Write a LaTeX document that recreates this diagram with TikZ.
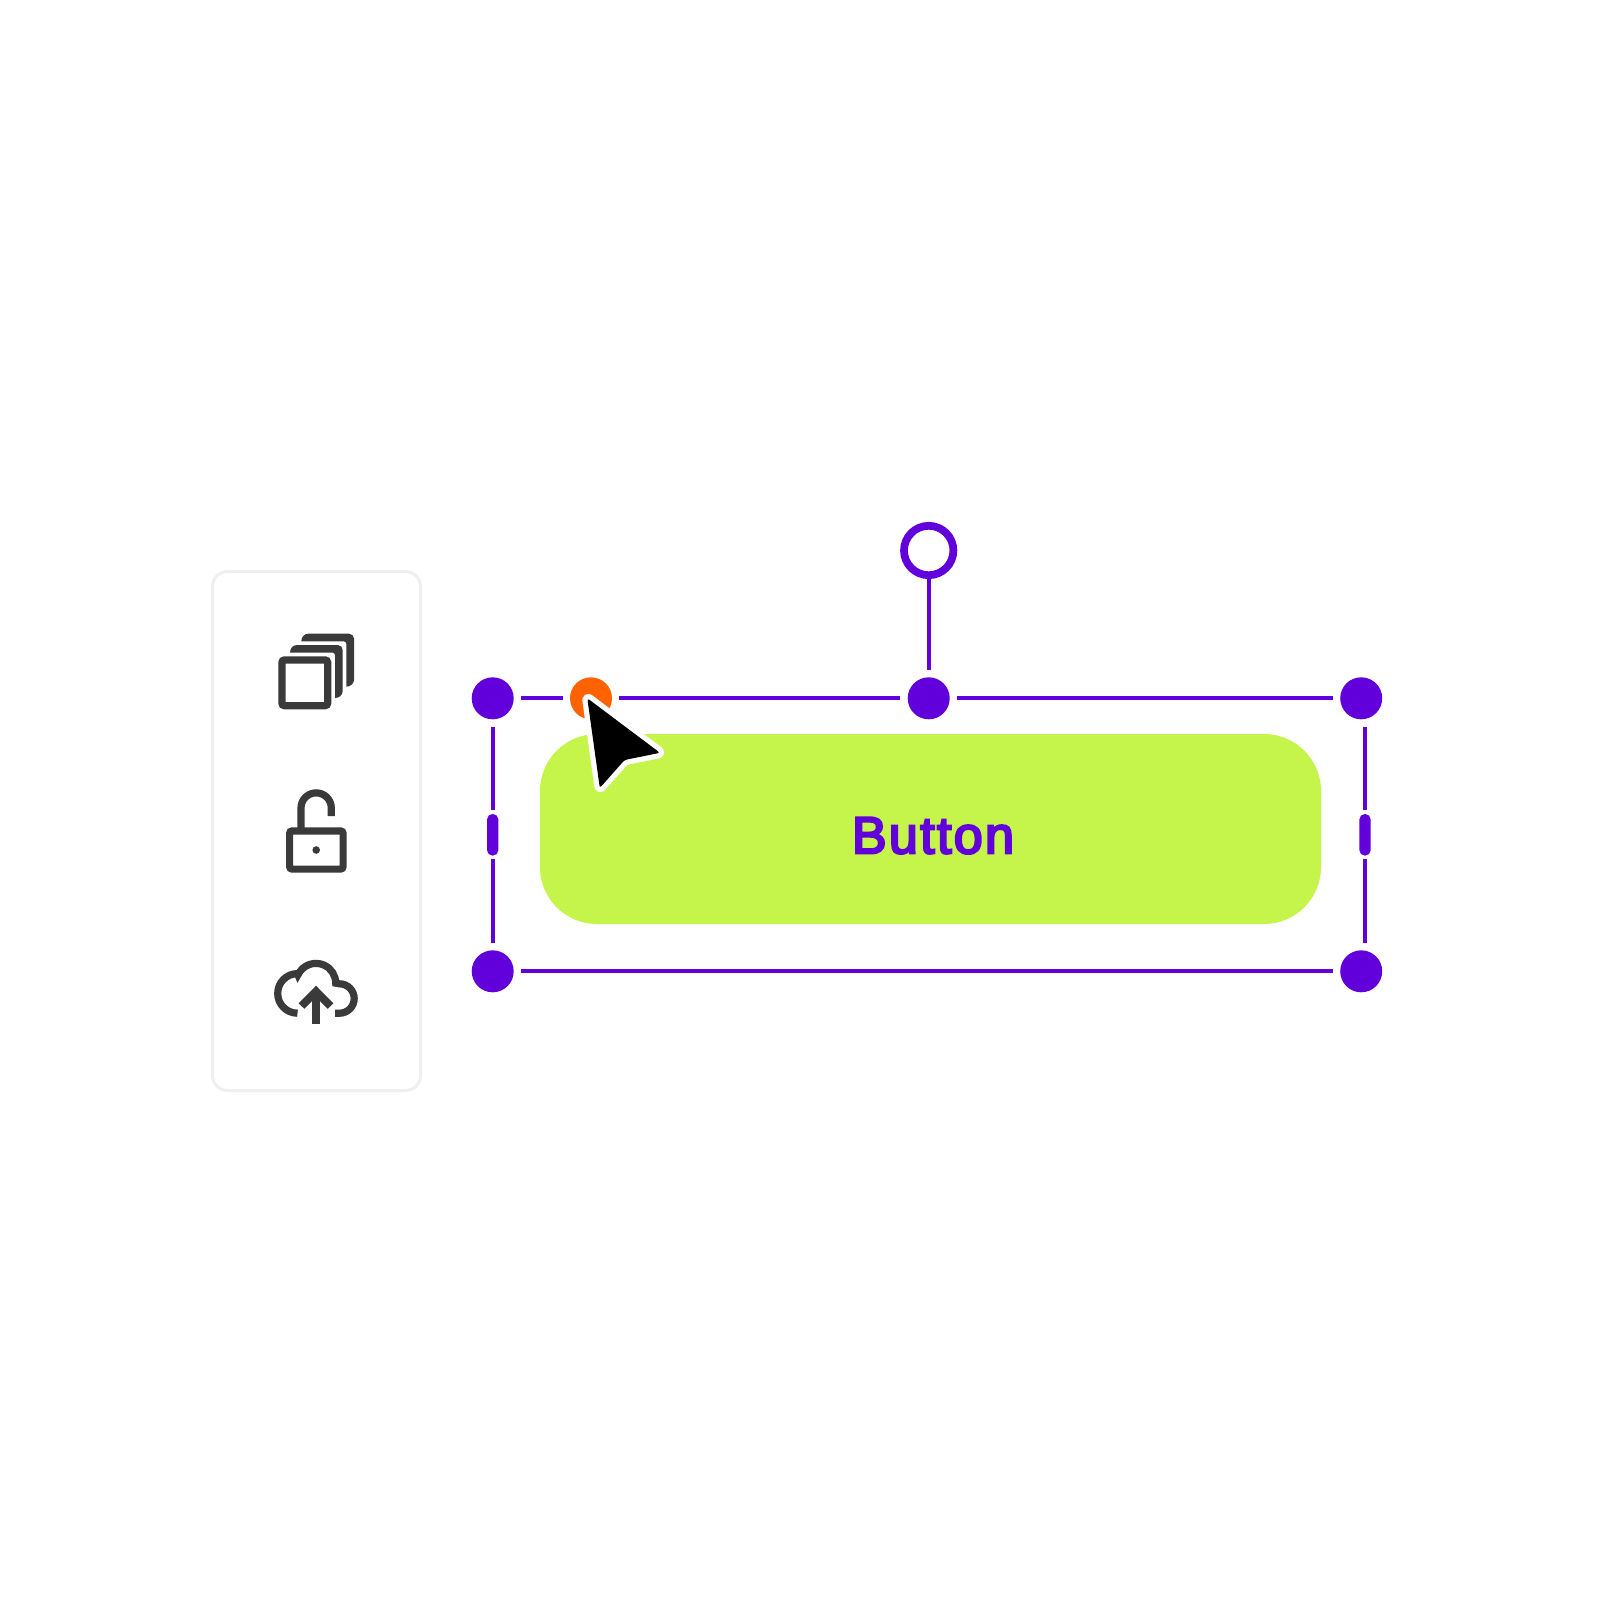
\documentclass[tikz,border=0pt]{standalone}
\usepackage{fontspec}
\setmainfont{Liberation Sans}
\newfontfamily\btnfont[FakeBold=4.5,LetterSpace=4.5]{Liberation Sans}
\definecolor{vio}{HTML}{6200DB}
\definecolor{org}{HTML}{FF6200}
\definecolor{lime}{HTML}{C5F54B}
\definecolor{ink}{HTML}{3A3A3A}
\definecolor{edgegray}{HTML}{EFEFEF}
\tikzset{
  handle/.style={circle,fill=vio,minimum size=42pt,inner sep=0pt,outer sep=7.4pt},
  pillnode/.style={rectangle,fill=vio,rounded corners=5.6pt,minimum width=11.4pt,minimum height=41.7pt,inner sep=0pt,outer sep=3.6pt},
  link/.style={draw=vio,line width=4pt},
  iconline/.style={draw=ink,line width=7.2pt},
}
\begin{document}
\begin{tikzpicture}[x=1pt,y=-1pt]
\useasboundingbox (0,0) rectangle (1600,1600);
\fill[white] (0,0) rectangle (1600,1600);

% side panel
\node (panel) at (316.5,831) [rectangle,draw=edgegray,fill=white,line width=3pt,rounded corners=15pt,minimum width=208pt,minimum height=519pt,inner sep=0pt] {};

% stack icon
\fill[ink,even odd rule] [rounded corners=5.5pt] (278.3,656.3) rectangle (331.3,709.3) [sharp corners] (285.5,663.5) rectangle (324.1,702.1);
\fill[ink] (290,652.7) .. controls (290,648.3) and (293,645) .. (297,645) -- (337.7,645) .. controls (340.5,645) and (342.7,647.2) .. (342.7,650) -- (342.7,691) .. controls (342.7,695) and (339,698) .. (335,698) -- (335,655) .. controls (335,653.7) and (334,652.7) .. (332.7,652.7) -- cycle;
\fill[ink,shift={(11.3,-11.3)}] (290,652.7) .. controls (290,648.3) and (293,645) .. (297,645) -- (337.7,645) .. controls (340.5,645) and (342.7,647.2) .. (342.7,650) -- (342.7,691) .. controls (342.7,695) and (339,698) .. (335,698) -- (335,655) .. controls (335,653.7) and (334,652.7) .. (332.7,652.7) -- cycle;

% lock icon
\draw[iconline] (301,828) -- (301,808) arc[start angle=180,end angle=360,radius=15.15] -- (331.3,816);
\fill[ink,even odd rule] [rounded corners=5.5pt] (286,827.3) rectangle (346.7,872.7) [sharp corners] (293.2,834.5) rectangle (339.5,865.5);
\fill[ink] (316.2,850) circle[radius=3.8];

% cloud icon
\draw[iconline,line join=miter] (297.5,1013.2) arc[start angle=90,end angle=270,radius=19.8] -- (298,974.8) arc[start angle=205,end angle=360,radius=19.8] -- (339.5,983.8) arc[start angle=270,end angle=450,radius=14.7] -- (335,1013.2);
\draw[draw=ink,line width=8pt] (301.5,1006) -- (316,991.4) -- (330.5,1006);
\draw[draw=ink,line width=8pt] (316,991.4) -- (316,1024.3);

% button
\node (btn) at (930.5,829) [rectangle,fill=lime,rounded corners=57pt,minimum width=781pt,minimum height=190pt,inner sep=0pt] {};
\node (btnlabel) at (933,853.3) [anchor=base,inner sep=0pt,text=vio,font=\btnfont\fontsize{52}{52}\selectfont] {Button};

% handles
\node[handle] (tl) at (492.7,698.3) {};
\node[handle,fill=org] (ora) at (591,698.3) {};
\node[handle] (tm) at (928.7,698.3) {};
\node[handle] (tr) at (1361.2,698.3) {};
\node[handle] (bl) at (492.7,971.3) {};
\node[handle] (br) at (1361.2,971.3) {};
\node[pillnode] (pl) at (492.7,834.8) {};
\node[pillnode] (pr) at (1365,834.8) {};
\node (rot) at (928.7,550.5) [circle,draw=vio,fill=white,line width=7.7pt,minimum size=49.4pt,inner sep=0pt,outer sep=0pt] {};

% connectors
\draw[link] (tl.east) -- (ora.west);
\draw[link] (ora.east) -- (tm.west);
\draw[link] (tm.east) -- (tr.west);
\draw[link] (bl.east) -- (br.west);
\draw[link] (tl.south) -- (pl.north);
\draw[link] (pl.south) -- (bl.north);
\draw[link] (pr.north |- tr.south) -- (pr.north);
\draw[link] (pr.south) -- (pr.south |- br.north);
\draw[link] (rot.south) -- (tm.north);

% pointer
\draw[white,fill=white,line width=10.5pt,line join=round,rounded corners=2pt] (587.3,698.2) -- (660,752.8) -- (624.5,760) -- (599.8,788) -- cycle;
\fill[black,rounded corners=2.5pt] (587.3,698.2) -- (660,752.8) -- (624.5,760) -- (599.8,788) -- cycle;
\end{tikzpicture}
\end{document}
